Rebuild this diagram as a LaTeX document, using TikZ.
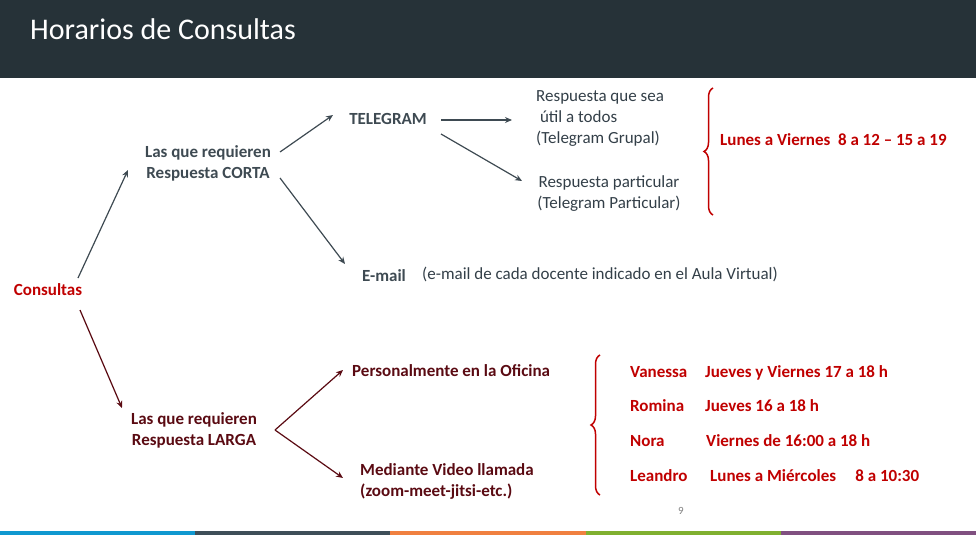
\documentclass[tikz,border=0pt]{standalone}
\usepackage{fontspec}
\setmainfont{Carlito}
\usetikzlibrary{decorations.pathreplacing,arrows.meta}
\definecolor{hdr}{HTML}{263238}
\definecolor{gr}{HTML}{3E4A52}
\definecolor{rd}{HTML}{C00000}
\definecolor{dr}{HTML}{5A0A12}
\definecolor{tx}{HTML}{333F48}
\definecolor{s0}{HTML}{1098D0}
\definecolor{s1}{HTML}{3E4E58}
\definecolor{s2}{HTML}{F08040}
\definecolor{s3}{HTML}{80B030}
\definecolor{s4}{HTML}{805080}
\begin{document}
\begin{tikzpicture}[x=1pt,y=-1pt,
  lab/.style={font=\fontsize{17}{21}\selectfont,inner sep=0pt,align=center},
  bgr/.style={lab,font=\fontsize{17}{21}\selectfont\bfseries,text=gr},
  bdr/.style={lab,font=\fontsize{17}{21}\selectfont\bfseries,text=dr},
  brd/.style={lab,font=\fontsize{17}{21}\selectfont\bfseries,text=rd,anchor=base west},
  gar/.style={draw=gr,line width=1.2pt,-{Stealth[length=7pt,width=6pt]}},
  dar/.style={draw=dr,line width=1.2pt,-{Stealth[length=7pt,width=6pt]}},
  brc/.style={draw=rd,line width=1.5pt,decorate,decoration={brace,amplitude=9pt}}]
\useasboundingbox (0,0) rectangle (976,535);
\fill[hdr] (0,0) rectangle (976,78);
\node[anchor=west,text=white,font=\fontsize{30}{34}\selectfont,inner sep=0pt] (title) at (30,29) {Horarios de Consultas};
\foreach \i in {0,...,4}
  \fill[s\i] (\i*195.2,531) rectangle ({(\i+1)*195.2},535);
\node[lab,font=\fontsize{17}{21}\selectfont\bfseries,text=rd] (cons) at (48,290) {Consultas};
\node[bgr] (corta) at (208,163) {Las que requieren\\Respuesta CORTA};
\node[bgr] (tel) at (388,119) {TELEGRAM};
\node[lab,text=tx,align=left,anchor=west] (util) at (536,119) {Respuesta que sea\\\ útil a todos\\(Telegram Grupal)};
\node[lab,text=tx] (part) at (609,194) {Respuesta particular\\(Telegram Particular)};
\node[brd] (lv) at (720,145) {Lunes a Viernes\ \ 8 a 12 – 15 a 19};
\node[bgr] (mail) at (384,276) {E-mail};
\node[lab,text=tx,anchor=west] (maild) at (422,274) {(e-mail de cada docente indicado en el Aula Virtual)};
\node[bdr] (larga) at (194,430) {Las que requieren\\Respuesta LARGA};
\node[bdr,anchor=west] (ofi) at (352,371) {Personalmente en la Oficina};
\node[bdr,anchor=west,align=left] (vid) at (360,481) {Mediante Video llamada\\(zoom-meet-jitsi-etc.)};
\node[lab,text=gray,font=\fontsize{11}{13}\selectfont] (pg) at (681,511) {9};
\foreach \n/\h/\y/\hx in {Vanessa/Jueves y Viernes 17 a 18 h/377/705,Romina/Jueves 16 a 18 h/411/705,Nora/Viernes de 16:00 a 18 h/446/706,Leandro/Lunes a Miércoles\ \ \ \ \ 8 a 10:30/481/710}{
  \node[brd] (n\y) at (630,\y) {\n};
  \node[brd] (h\y) at (\hx,\y) {\h};}
\coordinate (b1a) at (713,215); \coordinate (b1b) at (713,88);
\draw[brc] (b1a) -- (b1b);
\coordinate (b2a) at (600,495); \coordinate (b2b) at (600,355);
\draw[brc] (b2a) -- (b2b);
\coordinate (c1) at (78,278); \coordinate (c2) at (128,170);
\draw[gar] (c1) -- (c2);
\coordinate (k1) at (280,152); \coordinate (k2) at (333,115);
\draw[gar] (k1) -- (k2);
\coordinate (k3) at (280,178); \coordinate (k4) at (345,264);
\draw[gar] (k3) -- (k4);
\coordinate (t1) at (441,120); \coordinate (t2) at (512,120);
\draw[gar] (t1) -- (t2);
\coordinate (t3) at (441,134); \coordinate (t4) at (522,181);
\draw[gar] (t3) -- (t4);
\coordinate (d1) at (80,310); \coordinate (d2) at (122,408);
\draw[dar] (d1) -- (d2);
\coordinate (l0) at (275,430); \coordinate (l1) at (343,370); \coordinate (l2) at (343,478);
\draw[dar] (l0) -- (l1);
\draw[dar] (l0) -- (l2);
\end{tikzpicture}
\end{document}
